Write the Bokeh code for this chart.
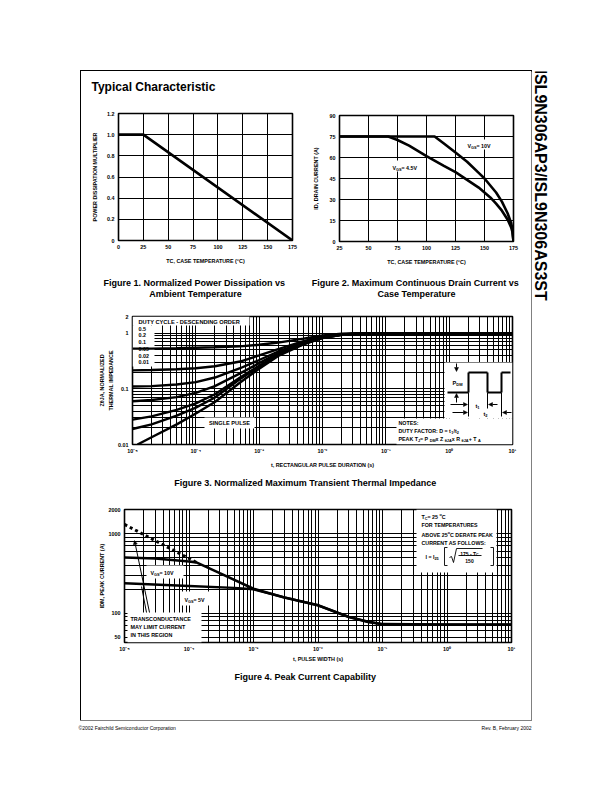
import math
from bokeh.plotting import figure
from bokeh.models import (Label, Arrow, NormalHead, BoxAnnotation, FixedTicker, Range1d, Spacer,
                          LogAxis)
from bokeh.layouts import column, row
from bokeh.embed import file_html
from bokeh.resources import INLINE

FONT = "Liberation Sans"

# ---------------- data ----------------
fig1_temp = [0, 25, 175]
fig1_mult = [1.0, 1.0, 0.0]
fig1_xticks = [0, 25, 50, 75, 100, 125, 150, 175]
fig1_yticks = [0, 0.2, 0.4, 0.6, 0.8, 1.0, 1.2]
fig1_ylabels = ["0", "0.2", "0.4", "0.6", "0.8", "1.0", "1.2"]

fig2_temp_10v = [25, 107, 115, 125, 135, 145, 150, 155, 160, 165, 170, 173, 174, 175]
fig2_id_10v = [75, 75, 70, 63.5, 57, 49, 45, 40, 35, 28.5, 20, 13, 9, 0]
fig2_temp_45v = [25, 67, 75, 85, 100, 115, 125, 135, 145, 150, 155, 160, 165, 170, 173, 174, 175]
fig2_id_45v = [75, 75, 72.5, 68.5, 61, 54, 49.5, 44, 38.5, 35, 31.5, 27, 22, 15.5, 10, 7, 0]
fig2_xticks = [25, 50, 75, 100, 125, 150, 175]
fig2_yticks = [0, 15, 30, 45, 60, 75, 90]

decade_ticks = [1e-5, 1e-4, 1e-3, 1e-2, 1e-1, 1.0, 10.0]
decade_labels = ["10\u207b\u2075", "10\u207b\u2074", "10\u207b\u00b3", "10\u207b\u00b2",
                 "10\u207b\u00b9", "10\u2070", "10\u00b9"]

fig3_t = [1e-5, 2e-5, 5e-5, 1e-4, 2e-4, 5e-4, 1e-3, 2e-3, 5e-3, 1e-2, 2e-2, 5e-2, 1e-1, 1.0, 10.0]
fig3_d050 = [0.53, 0.53, 0.54, 0.55, 0.56, 0.58, 0.62, 0.68, 0.80, 0.91, 0.98, 1.0, 1.0, 1.0, 1.0]
fig3_d020 = [0.215, 0.218, 0.225, 0.235, 0.255, 0.31, 0.40, 0.52, 0.72, 0.87, 0.96, 1.0, 1.0, 1.0, 1.0]
fig3_d010 = [0.11, 0.112, 0.12, 0.132, 0.16, 0.235, 0.33, 0.47, 0.68, 0.85, 0.95, 1.0, 1.0, 1.0, 1.0]
fig3_d005 = [0.06, 0.063, 0.071, 0.085, 0.112, 0.19, 0.29, 0.44, 0.66, 0.84, 0.95, 1.0, 1.0, 1.0, 1.0]
fig3_d002 = [0.028, 0.032, 0.042, 0.055, 0.08, 0.16, 0.26, 0.42, 0.65, 0.83, 0.94, 1.0, 1.0, 1.0, 1.0]
fig3_d001 = [0.019, 0.023, 0.033, 0.046, 0.07, 0.15, 0.25, 0.41, 0.64, 0.83, 0.94, 1.0, 1.0, 1.0, 1.0]
fig3_single_t = [1.2e-5, 2e-5, 5e-5, 1e-4, 2e-4, 5e-4, 1e-3, 2e-3, 5e-3, 1e-2, 2e-2, 5e-2, 1e-1, 1.0, 10.0]
fig3_single = [0.01, 0.0135, 0.023, 0.036, 0.058, 0.13, 0.23, 0.39, 0.63, 0.82, 0.94, 1.0, 1.0, 1.0, 1.0]
fig3_yticks = [0.01, 0.1, 1.0, 2.0]
fig3_ylabels = ["0.01", "0.1", "1", "2"]
fig3_yminor = [0.02, 0.03, 0.04, 0.05, 0.06, 0.07, 0.08, 0.09, 0.2, 0.3, 0.4, 0.5, 0.6, 0.7, 0.8, 0.9]

fig4_t_10v = [1e-5, 3e-5, 1e-4, 1.3e-4, 3e-4, 1e-3, 3e-3, 1e-2, 3e-2, 6e-2, 1e-1, 1.0, 10.0]
fig4_i_10v = [500, 485, 445, 435, 318, 203, 158, 126, 90, 78, 73, 72, 72]
fig4_t_5v = [1e-5, 1e-4, 5e-4, 1e-3, 3e-3, 1e-2, 3e-2, 6e-2, 1e-1, 1.0, 10.0]
fig4_i_5v = [238, 220, 208, 200, 158, 126, 90, 78, 73, 72, 72]
fig4_t_gm = [1e-5, 1.3e-4]
fig4_i_gm = [1300, 435]
fig4_yticks = [50, 100, 1000, 2000]
fig4_ylabels = ["50", "100", "1000", "2000"]
fig4_yminor = [60, 70, 80, 90, 200, 300, 400, 500, 600, 700, 800, 900]

# ---------------- helpers ----------------
BW = {' ': 278, '!': 333, '(': 333, ')': 333, ',': 278, '-': 333, '.': 278, '/': 278,
      ':': 333, '=': 584, '+': 584, '[': 333, ']': 333, '\u00b0': 400, '\u03b8': 600}
for c in "0123456789":
    BW[c] = 556
for c, w in zip("ABCDEFGHIJKLMNOPQRSTUVWXYZ",
                [722, 722, 722, 722, 667, 611, 778, 722, 278, 556, 722, 611, 833, 722, 778,
                 667, 778, 722, 667, 611, 722, 667, 944, 667, 667, 611]):
    BW[c] = w
for c, w in zip("abcdefghijklmnopqrstuvwxyz",
                [556, 611, 556, 611, 556, 333, 611, 611, 278, 278, 556, 278, 889, 611, 611,
                 611, 611, 389, 556, 333, 611, 556, 778, 556, 556, 500]):
    BW[c] = w


def text_w(s, size):
    return sum(BW.get(c, 600) for c in s) * size / 1000.0


def label(p, fr, x, y, text, size, align="left", baseline="middle", angle=0.0, bold=True):
    fl, ft, frr, fb = fr
    p.add_layout(Label(x=x - fl, y=fb - y, x_units="screen", y_units="screen", text=text,
                       angle=angle, text_align=align, text_baseline=baseline, text_font=FONT,
                       text_font_size=f"{size:.2f}px",
                       text_font_style="bold" if bold else "normal", text_color="black"))


def txt(p, fr, x, y, text, size, align="center", angle=0.0, bold=True):
    label(p, fr, x, y, text, size, align=align, angle=angle, bold=bold)


def rich(p, fr, x, y, segs, size, align="left", angle=0.0):
    scale = {"n": 1.0, "sub": 0.72, "sup": 0.72}
    shift = {"n": 0.0, "sub": 0.22, "sup": -0.42}
    total = sum(text_w(t, size * scale[k]) for t, k in segs)
    adv = (math.cos(angle), -math.sin(angle))
    down = (math.sin(angle), math.cos(angle))
    pos = {"center": -total / 2, "right": -total}.get(align, 0.0)
    for t, k in segs:
        s = size * scale[k]
        d = 0.35 * size + shift[k] * size
        px = x + adv[0] * pos + down[0] * d
        py = y + adv[1] * pos + down[1] * d
        label(p, fr, px, py, t, s, align="left", baseline="alphabetic", angle=angle)
        pos += text_w(t, s)


def wbox(p, fr, x0, y0, x1, y1):
    fl, ft, frr, fb = fr
    p.add_layout(BoxAnnotation(left=x0 - fl, right=x1 - fl, top=fb - y0, bottom=fb - y1,
                               left_units="screen", right_units="screen",
                               top_units="screen", bottom_units="screen",
                               fill_color="white", fill_alpha=1.0, line_color=None,
                               level="underlay"))


def seg(p, fr, x0, y0, x1, y1, head=False, lw=1.0):
    fl, ft, frr, fb = fr
    p.add_layout(Arrow(x_start=x0 - fl, y_start=fb - y0, x_end=x1 - fl, y_end=fb - y1,
                       start_units="screen", end_units="screen",
                       end=NormalHead(size=4, fill_color="black", line_color="black",
                                      line_width=0.5) if head else None,
                       line_width=lw, line_color="black"))


def style_axis(ax):
    ax.axis_line_color = None
    ax.major_tick_in = 0
    ax.major_tick_out = 0
    ax.minor_tick_in = 0
    ax.minor_tick_out = 0
    ax.major_label_text_font = FONT
    ax.major_label_text_font_size = "5.4px"
    ax.major_label_text_font_style = "bold"
    ax.major_label_text_color = "black"
    ax.major_label_standoff = 4
    ax.axis_label_text_font = FONT
    ax.axis_label_text_font_size = "5.4px"
    ax.axis_label_text_font_style = "bold"
    ax.axis_label_text_color = "black"


def mkfig(origin, size, fr, xr, yr, xlog=False, ylog=False, axes=True):
    ox, oy = origin
    w, h = size
    fl, ft, frr, fb = fr
    kw = {}
    if not axes:
        kw = dict(x_axis_location=None, y_axis_location=None)
    p = figure(width=w, height=h, x_range=xr, y_range=yr,
               x_axis_type="log" if xlog else "linear",
               y_axis_type="log" if ylog else "linear",
               min_border_left=fl - ox, min_border_right=ox + w - frr,
               min_border_top=ft - oy, min_border_bottom=oy + h - fb,
               output_backend="svg", toolbar_location=None,
               background_fill_color="white", border_fill_color="white", **kw)
    if axes:
        p.outline_line_color = "black"
        p.outline_line_width = 1.6
        for ax in p.axis:
            style_axis(ax)
        p.grid.grid_line_color = "black"
        p.grid.grid_line_width = 1
        p.grid.grid_line_alpha = 1
    else:
        p.outline_line_color = None
        p.xgrid.visible = False
        p.ygrid.visible = False
    return p


def textfig(origin, size):
    ox, oy = origin
    w, h = size
    fr = (ox, oy, ox + w, oy + h)
    return mkfig(origin, size, fr, Range1d(0, 1), Range1d(0, 1), axes=False), fr


PI2 = math.pi / 2

# ---------------- header ----------------
pH, frH = textfig((81, 71), (450, 29))
txt(pH, frH, 91, 86, "Typical Characteristic", 12, align="left")

# ---------------- Figure 1 ----------------
fr1 = (118, 113, 292, 240)
p1 = mkfig((81, 100), (225, 172), fr1, Range1d(0, 175), Range1d(0, 1.2))
p1.xaxis.ticker = FixedTicker(ticks=fig1_xticks)
p1.yaxis.ticker = FixedTicker(ticks=fig1_yticks)
p1.yaxis.major_label_overrides = {t: l for t, l in zip(fig1_yticks, fig1_ylabels)}
p1.yaxis.axis_label = "POWER DISSIPATION MULTIPLIER"
p1.yaxis.axis_label_standoff = 6
p1.xaxis.axis_label = "TC, CASE TEMPERATURE (\u00b0C)"
p1.xaxis.axis_label_standoff = 6
p1.line(fig1_temp, fig1_mult, line_width=2.6, line_color="black")

# ---------------- Figure 2 ----------------
fr2 = (339, 115, 513, 241)
p2 = mkfig((306, 100), (225, 172), fr2, Range1d(25, 175), Range1d(0, 90))
p2.xaxis.ticker = FixedTicker(ticks=fig2_xticks)
p2.yaxis.ticker = FixedTicker(ticks=fig2_yticks)
p2.yaxis.axis_label = "ID, DRAIN CURRENT (A)"
p2.yaxis.axis_label_standoff = 8
p2.xaxis.axis_label = "TC, CASE TEMPERATURE (\u00b0C)"
p2.xaxis.axis_label_standoff = 6
wbox(p2, fr2, 464, 139, 491, 149)
wbox(p2, fr2, 389, 160, 425, 171)
p2.line(fig2_temp_10v, fig2_id_10v, line_width=2.6, line_color="black")
p2.line(fig2_temp_45v, fig2_id_45v, line_width=2.6, line_color="black")
rich(p2, fr2, 467, 144, [("V", "n"), ("GS", "sub"), (" = 10V", "n")], 5.3)
rich(p2, fr2, 392, 166, [("V", "n"), ("GS", "sub"), (" = 4.5V", "n")], 5.3)

# ---------------- captions 1 & 2 ----------------
pC12, frC12 = textfig((81, 272), (450, 28))
txt(pC12, frC12, 195, 282, "Figure 1.  Normalized Power Dissipation vs", 9)
txt(pC12, frC12, 195, 293, "Ambient Temperature", 9)
txt(pC12, frC12, 416, 282, "Figure 2.  Maximum Continuous Drain Current vs", 9)
txt(pC12, frC12, 416, 293, "Case Temperature", 9)

# ---------------- Figure 3 ----------------
decade_minor = [k * d for d in decade_ticks[:-1] for k in range(2, 10)]
fr3 = (132, 316, 512, 444)
p3 = mkfig((81, 300), (450, 172), fr3, Range1d(1e-5, 10), Range1d(0.01, 2), xlog=True, ylog=True)
p3.xaxis.ticker = FixedTicker(ticks=decade_ticks, minor_ticks=decade_minor)
p3.xaxis.major_label_overrides = {t: l for t, l in zip(decade_ticks, decade_labels)}
p3.yaxis.ticker = FixedTicker(ticks=fig3_yticks, minor_ticks=fig3_yminor)
p3.yaxis.major_label_overrides = {t: l for t, l in zip(fig3_yticks, fig3_ylabels)}
p3.xaxis.major_label_standoff = 3
p3.yaxis.axis_label = "THERMAL IMPEDANCE"
p3.yaxis.axis_label_standoff = 1
extra = LogAxis(ticker=FixedTicker(ticks=[]), axis_label="Z\u03b8JA, NORMALIZED")
style_axis(extra)
extra.axis_label_standoff = 1
p3.add_layout(extra, "left")
p3.xaxis.axis_label = "t, RECTANGULAR PULSE DURATION (s)"
p3.xaxis.axis_label_standoff = 5
p3.xgrid.minor_grid_line_color = "black"
p3.ygrid.minor_grid_line_color = "black"
wbox(p3, fr3, 132, 316, 249, 325)
wbox(p3, fr3, 132, 325, 154, 366)
wbox(p3, fr3, 204, 417, 254, 428)
wbox(p3, fr3, 444, 362, 512, 418)
wbox(p3, fr3, 396, 418, 512, 444)
for ys in [fig3_d050, fig3_d020, fig3_d010, fig3_d005, fig3_d002, fig3_d001]:
    p3.line(fig3_t, ys, line_width=2.4, line_color="black")
p3.line(fig3_single_t, fig3_single, line_width=2.4, line_color="black")
txt(p3, fr3, 138, 321, "DUTY CYCLE - DESCENDING ORDER", 5.7, align="left")
for yy, lab in zip([328, 334.5, 341, 348, 355, 361.5], ["0.5", "0.2", "0.1", "0.05", "0.02", "0.01"]):
    txt(p3, fr3, 138, yy, lab, 5.4, align="left")
txt(p3, fr3, 229, 422.5, "SINGLE PULSE", 5.6)
txt(p3, fr3, 398, 422, "NOTES:", 5.3, align="left")
rich(p3, fr3, 398, 429, [("DUTY FACTOR: D = t", "n"), ("1", "sub"), ("/t", "n"), ("2", "sub")], 5.3)
rich(p3, fr3, 398, 437, [("PEAK T", "n"), ("J", "sub"), (" = P", "n"), ("DM", "sub"),
                         (" x Z", "n"), ("\u03b8JA", "sub"), (" x R", "n"), ("\u03b8JA", "sub"),
                         (" + T", "n"), ("A", "sub")], 5.3)
pulse = [(447, 392), (468, 392), (468, 372), (487, 372), (487, 392), (501, 392), (501, 372), (510, 372)]
for (xa, ya), (xb, yb) in zip(pulse[:-1], pulse[1:]):
    seg(p3, fr3, xa, ya, xb, yb, lw=2)
seg(p3, fr3, 456, 363, 456, 371, head=True)
seg(p3, fr3, 456, 402, 456, 393, head=True)
rich(p3, fr3, 457, 381, [("P", "n"), ("DM", "sub")], 5.6, align="center")
seg(p3, fr3, 468, 392, 468, 416)
seg(p3, fr3, 487, 392, 487, 408)
seg(p3, fr3, 501, 392, 501, 416)
seg(p3, fr3, 450, 404, 467, 404, head=True)
seg(p3, fr3, 497, 404, 488, 404, head=True)
seg(p3, fr3, 452, 412, 467, 412, head=True)
seg(p3, fr3, 511, 412, 502, 412, head=True)
rich(p3, fr3, 477, 404, [("t", "n"), ("1", "sub")], 5.6, align="center")
rich(p3, fr3, 485, 412, [("t", "n"), ("2", "sub")], 5.6, align="center")

pC3, frC3 = textfig((81, 472), (450, 18))
txt(pC3, frC3, 306, 482, "Figure 3.  Normalized Maximum Transient Thermal Impedance", 9)

# ---------------- Figure 4 ----------------
fr4 = (124, 509, 511, 642)
p4 = mkfig((81, 490), (450, 175), fr4, Range1d(1e-5, 10), Range1d(43, 2000), xlog=True, ylog=True)
p4.xaxis.ticker = FixedTicker(ticks=decade_ticks, minor_ticks=decade_minor)
p4.xaxis.major_label_overrides = {t: l for t, l in zip(decade_ticks, decade_labels)}
p4.yaxis.ticker = FixedTicker(ticks=fig4_yticks, minor_ticks=fig4_yminor)
p4.yaxis.major_label_overrides = {t: l for t, l in zip(fig4_yticks, fig4_ylabels)}
p4.xaxis.major_label_standoff = 3
p4.yaxis.axis_label = "IDM, PEAK CURRENT (A)"
p4.yaxis.axis_label_standoff = 1
p4.xaxis.axis_label = "t, PULSE WIDTH (s)"
p4.xaxis.axis_label_standoff = 1
p4.xgrid.minor_grid_line_color = "black"
p4.ygrid.minor_grid_line_color = "black"
wbox(p4, fr4, 127, 612, 201, 642)
wbox(p4, fr4, 146, 565, 183, 578)
wbox(p4, fr4, 181, 591, 211, 605)
wbox(p4, fr4, 416, 509, 496, 572)
p4.line(fig4_t_10v, fig4_i_10v, line_width=2.6, line_color="black")
p4.line(fig4_t_5v, fig4_i_5v, line_width=2.4, line_color="black")
p4.line(fig4_t_gm, fig4_i_gm, line_width=3, line_color="black", line_dash="3 3")
rich(p4, fr4, 150, 571, [("V", "n"), ("GS", "sub"), (" = 10V", "n")], 5.3)
rich(p4, fr4, 184, 598, [("V", "n"), ("GS", "sub"), (" = 5V", "n")], 5.3)
txt(p4, fr4, 130, 618, "TRANSCONDUCTANCE", 5.4, align="left")
txt(p4, fr4, 130, 626, "MAY LIMIT CURRENT", 5.4, align="left")
txt(p4, fr4, 130, 634, "IN THIS REGION", 5.4, align="left")
seg(p4, fr4, 149, 612, 134, 540, head=True)
seg(p4, fr4, 146, 612, 141, 586)
rich(p4, fr4, 421, 515, [("T", "n"), ("C", "sub"), (" = 25", "n"), ("o", "sup"), ("C", "n")], 5.3)
txt(p4, fr4, 421, 524, "FOR TEMPERATURES", 5.3, align="left")
rich(p4, fr4, 421, 533, [("ABOVE 25", "n"), ("o", "sup"), ("C DERATE PEAK", "n")], 5.3)
txt(p4, fr4, 421, 542, "CURRENT AS FOLLOWS:", 5.3, align="left")
rich(p4, fr4, 425, 555, [("I = I", "n"), ("25", "sub")], 5.3)
for xa, ya, xb, yb in [(447, 547, 444, 547), (444, 547, 444, 565), (444, 565, 447, 565),
                       (490, 547, 493, 547), (493, 547, 493, 565), (493, 565, 490, 565),
                       (449, 557, 451, 556), (451, 556, 453, 562), (453, 562, 456, 548),
                       (456, 548, 482, 548), (458, 555, 481, 555)]:
    seg(p4, fr4, xa, ya, xb, yb, lw=0.9)
rich(p4, fr4, 469, 551.5, [("175 - T", "n"), ("C", "sub")], 5.0, align="center")
txt(p4, fr4, 469, 560, "150", 5.0)

pC4, frC4 = textfig((81, 665), (450, 55))
txt(pC4, frC4, 306, 676, "Figure 4.  Peak Current Capability", 9)

# ---------------- side title & footer ----------------
pS, frS = textfig((531, 71), (73, 649))
label(pS, frS, 540, 69, "ISL9N306AP3/ISL9N306AS3ST", 16, align="left", baseline="middle", angle=-PI2)

pF, frF = textfig((0, 720), (604, 24))
label(pF, frF, 78, 727.5, "\u00a92002 Fairchild Semiconductor Corporation", 5.0, align="left", bold=False)
label(pF, frF, 531, 727.5, "Rev. B, February 2002", 5.0, align="right", bold=False)

boxcol = column(row(pH), row(column(p1), column(p2)), row(pC12), row(p3), row(pC3), row(p4),
                row(pC4), styles={"outline": "1.3px solid black"})
layout = column(Spacer(width=604, height=71),
                row(Spacer(width=81, height=649), boxcol, column(pS)),
                row(pF))

open("out.html", "w").write(file_html(layout, INLINE))
